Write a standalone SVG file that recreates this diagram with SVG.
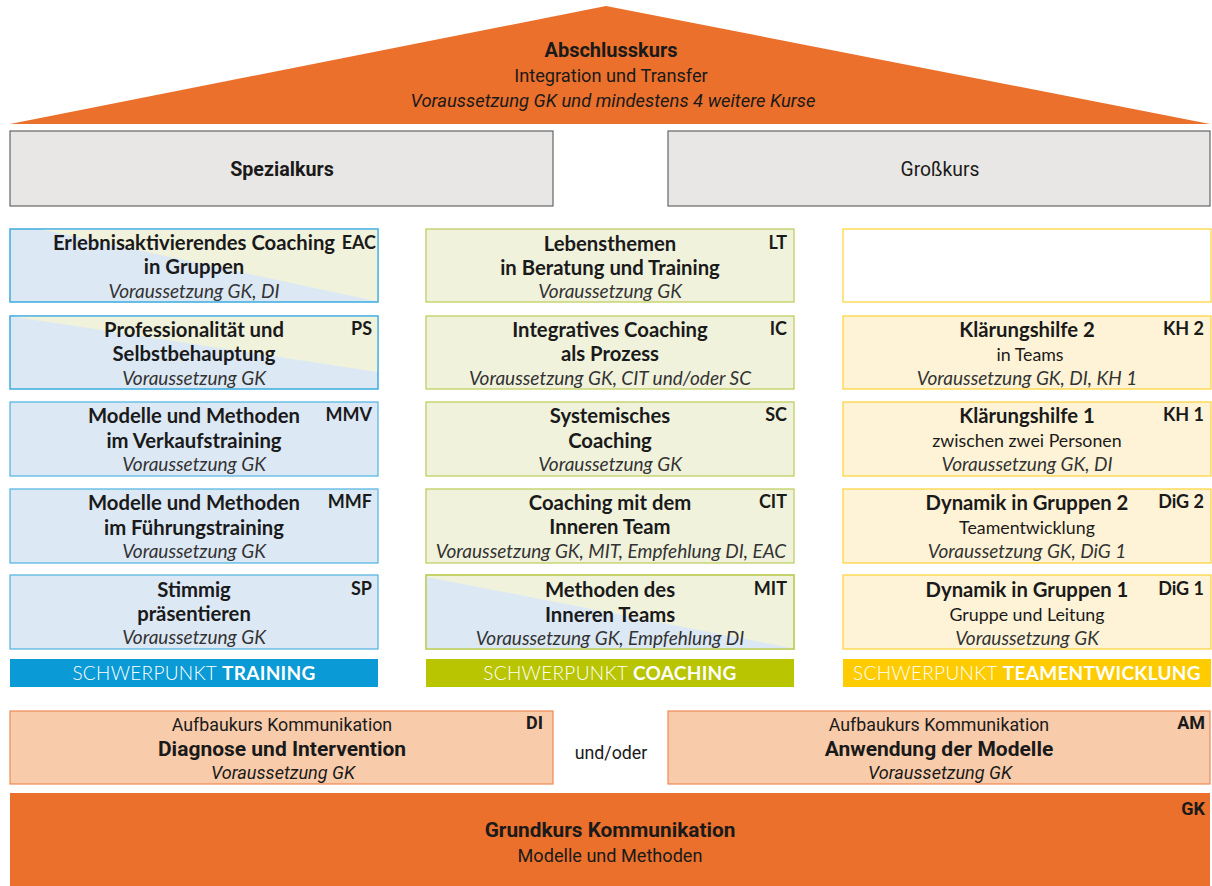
<svg xmlns="http://www.w3.org/2000/svg" width="1212" height="886" viewBox="0 0 1212 886">
<style>
text{font-family:Lato,"Open Sans",sans-serif;fill:#1a1a1a;text-anchor:middle}
.c{font-family:Roboto,"Liberation Sans",sans-serif}
.t{font-size:20.3px;font-weight:bold}
.s{font-size:17.8px}
.i{font-size:19px;font-style:italic;fill:#333}
.a{font-size:18px;font-weight:bold;text-anchor:end}
.bl{fill:#DCE8F4;stroke:#4EB2E2;stroke-width:1.2}
.gr{fill:#F0F2DC;stroke:#BCCB55;stroke-width:1.2}
.ye{fill:#FEF3D6;stroke:#FDD235;stroke-width:1.2}
.grey{fill:#E9E7E5;stroke:#666;stroke-width:1.2}
.or{fill:#F8CBAA;stroke:#EE8A55;stroke-width:1.2}
.bar{font-size:19px;fill:#fff;letter-spacing:0.3px}
</style>
<g id="roof">
<polygon points="10,124 606,6 1210,124" fill="#EB702B"/>
<text class="c" x="611" y="57" style="font-size:20px;font-weight:bold">Abschlusskurs</text>
<text class="c" x="611" y="82" style="font-size:18.2px">Integration und Transfer</text>
<text class="c" x="613" y="107" style="font-size:18.4px;font-style:italic">Voraussetzung GK und mindestens 4 weitere Kurse</text>
</g>
<g id="spezialkurs"><rect class="grey" x="10" y="131" width="543" height="75"/><text class="c" x="282" y="176" style="font-size:19.7px;font-weight:bold">Spezialkurs</text></g>
<g id="grosskurs"><rect class="grey" x="668" y="131" width="542" height="75"/><text class="c" x="940" y="176" style="font-size:19.3px">Großkurs</text></g>

<g id="EAC">
<rect class="bl" x="10" y="229" width="368" height="73"/>
<polygon points="42,229.6 377.4,229.6 377.4,301.4" fill="#F0F2DC"/>
<rect x="10" y="229" width="368" height="73" fill="none" stroke="#4EB2E2" stroke-width="1.2"/>
<text class="t" x="194" y="250">Erlebnisaktivierendes Coaching</text>
<text class="t" x="194" y="274">in Gruppen</text>
<text class="i" x="194" y="298">Voraussetzung GK, DI</text>
<text class="a" x="376" y="249">EAC</text>
</g>
<g id="PS">
<rect class="bl" x="10" y="316" width="368" height="73"/>
<polygon points="12,316.6 377.4,316.6 377.4,372" fill="#F0F2DC"/>
<rect x="10" y="316" width="368" height="73" fill="none" stroke="#4EB2E2" stroke-width="1.2"/>
<text class="t" x="194" y="337">Professionalität und</text>
<text class="t" x="194" y="361">Selbstbehauptung</text>
<text class="i" x="194" y="385">Voraussetzung GK</text>
<text class="a" x="372" y="335">PS</text>
</g>
<g id="MMV">
<rect class="bl" x="10" y="402" width="368" height="74"/>
<text class="t" x="194" y="423">Modelle und Methoden</text>
<text class="t" x="194" y="448">im Verkaufstraining</text>
<text class="i" x="194" y="471">Voraussetzung GK</text>
<text class="a" x="372" y="421">MMV</text>
</g>
<g id="MMF">
<rect class="bl" x="10" y="489" width="368" height="74"/>
<text class="t" x="194" y="510">Modelle und Methoden</text>
<text class="t" x="194" y="535">im Führungstraining</text>
<text class="i" x="194" y="558">Voraussetzung GK</text>
<text class="a" x="372" y="508">MMF</text>
</g>
<g id="SP">
<rect class="bl" x="10" y="575" width="368" height="74"/>
<text class="t" x="194" y="597">Stimmig</text>
<text class="t" x="194" y="621">präsentieren</text>
<text class="i" x="194" y="644">Voraussetzung GK</text>
<text class="a" x="372" y="595">SP</text>
</g>

<g id="LT">
<rect class="gr" x="426" y="229" width="368" height="73"/>
<text class="t" x="610" y="251">Lebensthemen</text>
<text class="t" x="610" y="275">in Beratung und Training</text>
<text class="i" x="610" y="298">Voraussetzung GK</text>
<text class="a" x="787" y="249">LT</text>
</g>
<g id="IC">
<rect class="gr" x="426" y="316" width="368" height="73"/>
<text class="t" x="610" y="337">Integratives Coaching</text>
<text class="t" x="610" y="361">als Prozess</text>
<text class="i" x="610" y="385">Voraussetzung GK, CIT und/oder SC</text>
<text class="a" x="787" y="335">IC</text>
</g>
<g id="SC">
<rect class="gr" x="426" y="402" width="368" height="74"/>
<text class="t" x="610" y="423">Systemisches</text>
<text class="t" x="610" y="448">Coaching</text>
<text class="i" x="610" y="471">Voraussetzung GK</text>
<text class="a" x="787" y="421">SC</text>
</g>
<g id="CIT">
<rect class="gr" x="426" y="489" width="368" height="74"/>
<text class="t" x="610" y="510">Coaching mit dem</text>
<text class="t" x="610" y="534">Inneren Team</text>
<text class="i" x="611" y="558">Voraussetzung GK, MIT, Empfehlung DI, EAC</text>
<text class="a" x="787" y="508">CIT</text>
</g>
<g id="MIT">
<rect class="gr" x="426" y="575" width="368" height="74"/>
<polygon points="426.6,577 793.4,648.4 426.6,648.4" fill="#DCE8F4"/>
<rect x="426" y="575" width="368" height="74" fill="none" stroke="#BCCB55" stroke-width="1.2"/>
<text class="t" x="610" y="597">Methoden des</text>
<text class="t" x="610" y="622">Inneren Teams</text>
<text class="i" x="610" y="645">Voraussetzung GK, Empfehlung DI</text>
<text class="a" x="787" y="595">MIT</text>
</g>

<g id="empty"><rect x="843" y="229" width="368" height="73" fill="#fff" stroke="#FDD235" stroke-width="1.2"/></g>
<g id="KH2">
<rect class="ye" x="843" y="316" width="368" height="73"/>
<text class="t" x="1027" y="337">Klärungshilfe 2</text>
<text class="s" x="1030" y="361">in Teams</text>
<text class="i" x="1027" y="385">Voraussetzung GK, DI, KH 1</text>
<text class="a" x="1204" y="335">KH 2</text>
</g>
<g id="KH1">
<rect class="ye" x="843" y="402" width="368" height="74"/>
<text class="t" x="1027" y="423">Klärungshilfe 1</text>
<text class="s" x="1027" y="447">zwischen zwei Personen</text>
<text class="i" x="1027" y="471">Voraussetzung GK, DI</text>
<text class="a" x="1204" y="421">KH 1</text>
</g>
<g id="DiG2">
<rect class="ye" x="843" y="489" width="368" height="74"/>
<text class="t" x="1027" y="510">Dynamik in Gruppen 2</text>
<text class="s" x="1027" y="534">Teamentwicklung</text>
<text class="i" x="1027" y="558">Voraussetzung GK, DiG 1</text>
<text class="a" x="1204" y="508">DiG 2</text>
</g>
<g id="DiG1">
<rect class="ye" x="843" y="575" width="368" height="74"/>
<text class="t" x="1027" y="597">Dynamik in Gruppen 1</text>
<text class="s" x="1027" y="621">Gruppe und Leitung</text>
<text class="i" x="1027" y="645">Voraussetzung GK</text>
<text class="a" x="1204" y="595">DiG 1</text>
</g>

<g id="bar-training"><rect x="10" y="659" width="368" height="28" fill="#0A9AD5"/><text class="bar" x="194" y="680"><tspan style="font-weight:300">SCHWERPUNKT </tspan><tspan font-weight="bold">TRAINING</tspan></text></g>
<g id="bar-coaching"><rect x="426" y="659" width="368" height="28" fill="#B8C500"/><text class="bar" x="610" y="680"><tspan style="font-weight:300">SCHWERPUNKT </tspan><tspan font-weight="bold">COACHING</tspan></text></g>
<g id="bar-team"><rect x="843" y="659" width="368" height="28" fill="#FECC00"/><text class="bar" x="1027" y="680"><tspan style="font-weight:300">SCHWERPUNKT </tspan><tspan font-weight="bold">TEAMENTWICKLUNG</tspan></text></g>

<g id="DI">
<rect class="or" x="10" y="711" width="543" height="73"/>
<text class="c" x="282" y="731" style="font-size:17.8px">Aufbaukurs Kommunikation</text>
<text class="c" x="282" y="756" style="font-size:21px;font-weight:bold">Diagnose und Intervention</text>
<text class="c" x="283" y="779" style="font-size:18.1px;font-style:italic">Voraussetzung GK</text>
<text class="c" x="543" y="729" style="font-size:18px;font-weight:bold;text-anchor:end">DI</text>
</g>
<text class="c" x="611" y="759" style="font-size:17.8px">und/oder</text>
<g id="AM">
<rect class="or" x="668" y="711" width="542" height="73"/>
<text class="c" x="939" y="731" style="font-size:17.8px">Aufbaukurs Kommunikation</text>
<text class="c" x="939" y="756" style="font-size:21px;font-weight:bold">Anwendung der Modelle</text>
<text class="c" x="940" y="779" style="font-size:18.1px;font-style:italic">Voraussetzung GK</text>
<text class="c" x="1205" y="729" style="font-size:18px;font-weight:bold;text-anchor:end">AM</text>
</g>
<g id="GK">
<rect x="10" y="793" width="1200" height="93" fill="#EB702B"/>
<text class="c" x="610" y="837" style="font-size:20.8px;font-weight:bold">Grundkurs Kommunikation</text>
<text class="c" x="610" y="862" style="font-size:18.1px">Modelle und Methoden</text>
<text class="c" x="1205" y="815" style="font-size:18px;font-weight:bold;text-anchor:end">GK</text>
</g>
</svg>
